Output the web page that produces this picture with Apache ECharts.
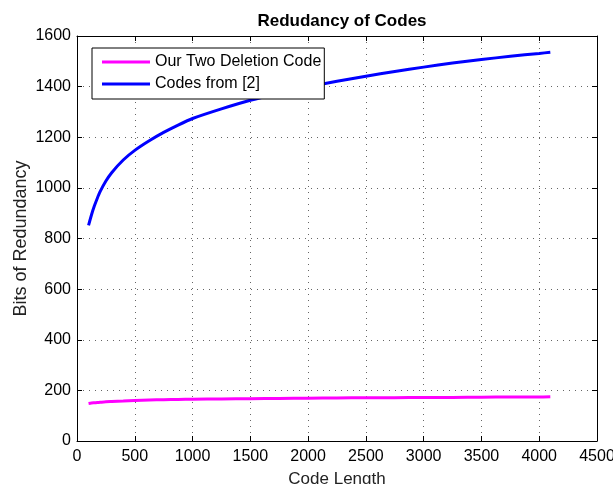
<!DOCTYPE html>
<html>
<head>
<meta charset="utf-8">
<script src="https://cdn.jsdelivr.net/npm/echarts@6/dist/echarts.min.js"></script>
<style>html,body{margin:0;padding:0;background:#fff;}#c{width:613px;height:484px;}</style>
</head>
<body>
<div id="c"></div>
<script>
var codeLength = [100, 125, 150, 175, 200, 250, 300, 400, 500, 625, 750, 875, 1000, 1250, 1500, 1750, 2000, 2250, 2500, 2750, 3000, 3250, 3500, 3750, 4000, 4096];
var ourTwoDeletion = [148, 150, 151, 152, 153, 155, 156, 158, 160, 162, 163, 164, 165, 166, 167, 168, 169, 170, 171, 171, 172, 172, 173, 174, 174, 175];
var codesFrom2 = [852, 893, 928, 958, 985, 1027, 1060, 1110, 1148, 1186, 1219, 1248, 1274, 1312, 1346, 1374, 1399, 1421, 1441, 1460, 1477, 1493, 1507, 1520, 1531, 1536];
var seriesNames = ['Our Two Deletion Code', 'Codes from [2]'];
var titleText = 'Redudancy of Codes';
var xName = 'Code Length';
var yName = 'Bits of Redundancy';

var FONT = 'Liberation Sans, Arial, Helvetica, sans-serif';
function pairs(xs, ys){ return xs.map(function(x,i){ return [x, ys[i]]; }); }
function plain(v){ return String(v); }

var chart = echarts.init(document.getElementById('c'), null, {renderer:'canvas'});
var gridLine = {show:true, lineStyle:{color:'#666', width:1, type:[1,5]}};
var axLine = {show:true, onZero:false, lineStyle:{color:'#000', width:1}};
var axTick = {show:true, inside:true, length:5, lineStyle:{color:'#000'}};
chart.setOption({
  animation:false,
  backgroundColor:'#fff',
  title:{text:titleText, left:337, top:8, textAlign:'center',
    textStyle:{fontFamily:FONT, fontSize:17, fontWeight:'bold', color:'#000'}},
  grid:{left:77, right:16, top:36, bottom:43, containLabel:false, outerBoundsMode:'none'},
  legend:{
    left:92, top:48, orient:'vertical',
    data:seriesNames,
    icon:'rect', itemWidth:48, itemHeight:3, itemGap:6,
    padding:[6,3,7,10],
    borderColor:'#000', borderWidth:1, backgroundColor:'#fff',
    textStyle:{fontFamily:FONT, fontSize:16, color:'#000'}
  },
  xAxis:[{
    type:'value', min:0, max:4500, interval:500,
    name:xName, nameLocation:'middle', nameGap:30, nameMoveOverlap:false,
    nameTextStyle:{fontFamily:FONT, fontSize:17, color:'#222'},
    axisLine:axLine, axisTick:axTick, splitLine:gridLine,
    axisLabel:{fontFamily:FONT, fontSize:16, color:'#000', margin:8, formatter:plain}
  },{
    type:'value', min:0, max:4500, interval:500, position:'top',
    axisLine:axLine, axisTick:axTick, splitLine:{show:false}, axisLabel:{show:false}
  }],
  yAxis:[{
    type:'value', min:0, max:1600, interval:200,
    name:yName, nameLocation:'middle', nameGap:47, nameMoveOverlap:false,
    nameTextStyle:{fontFamily:FONT, fontSize:18, color:'#222'},
    axisLine:axLine, axisTick:axTick, splitLine:gridLine,
    axisLabel:{fontFamily:FONT, fontSize:16, color:'#000', margin:6, formatter:plain}
  },{
    type:'value', min:0, max:1600, interval:200, position:'right',
    axisLine:axLine, axisTick:axTick, splitLine:{show:false}, axisLabel:{show:false}
  }],
  series:[{
    name:seriesNames[0], type:'line', data:pairs(codeLength, ourTwoDeletion),
    showSymbol:false, smooth:0.2,
    lineStyle:{color:'#ff00ff', width:3}, itemStyle:{color:'#ff00ff'}
  },{
    name:seriesNames[1], type:'line', data:pairs(codeLength, codesFrom2),
    showSymbol:false, smooth:0.2,
    lineStyle:{color:'#0000ff', width:3}, itemStyle:{color:'#0000ff'}
  }]
});
</script>
</body>
</html>
